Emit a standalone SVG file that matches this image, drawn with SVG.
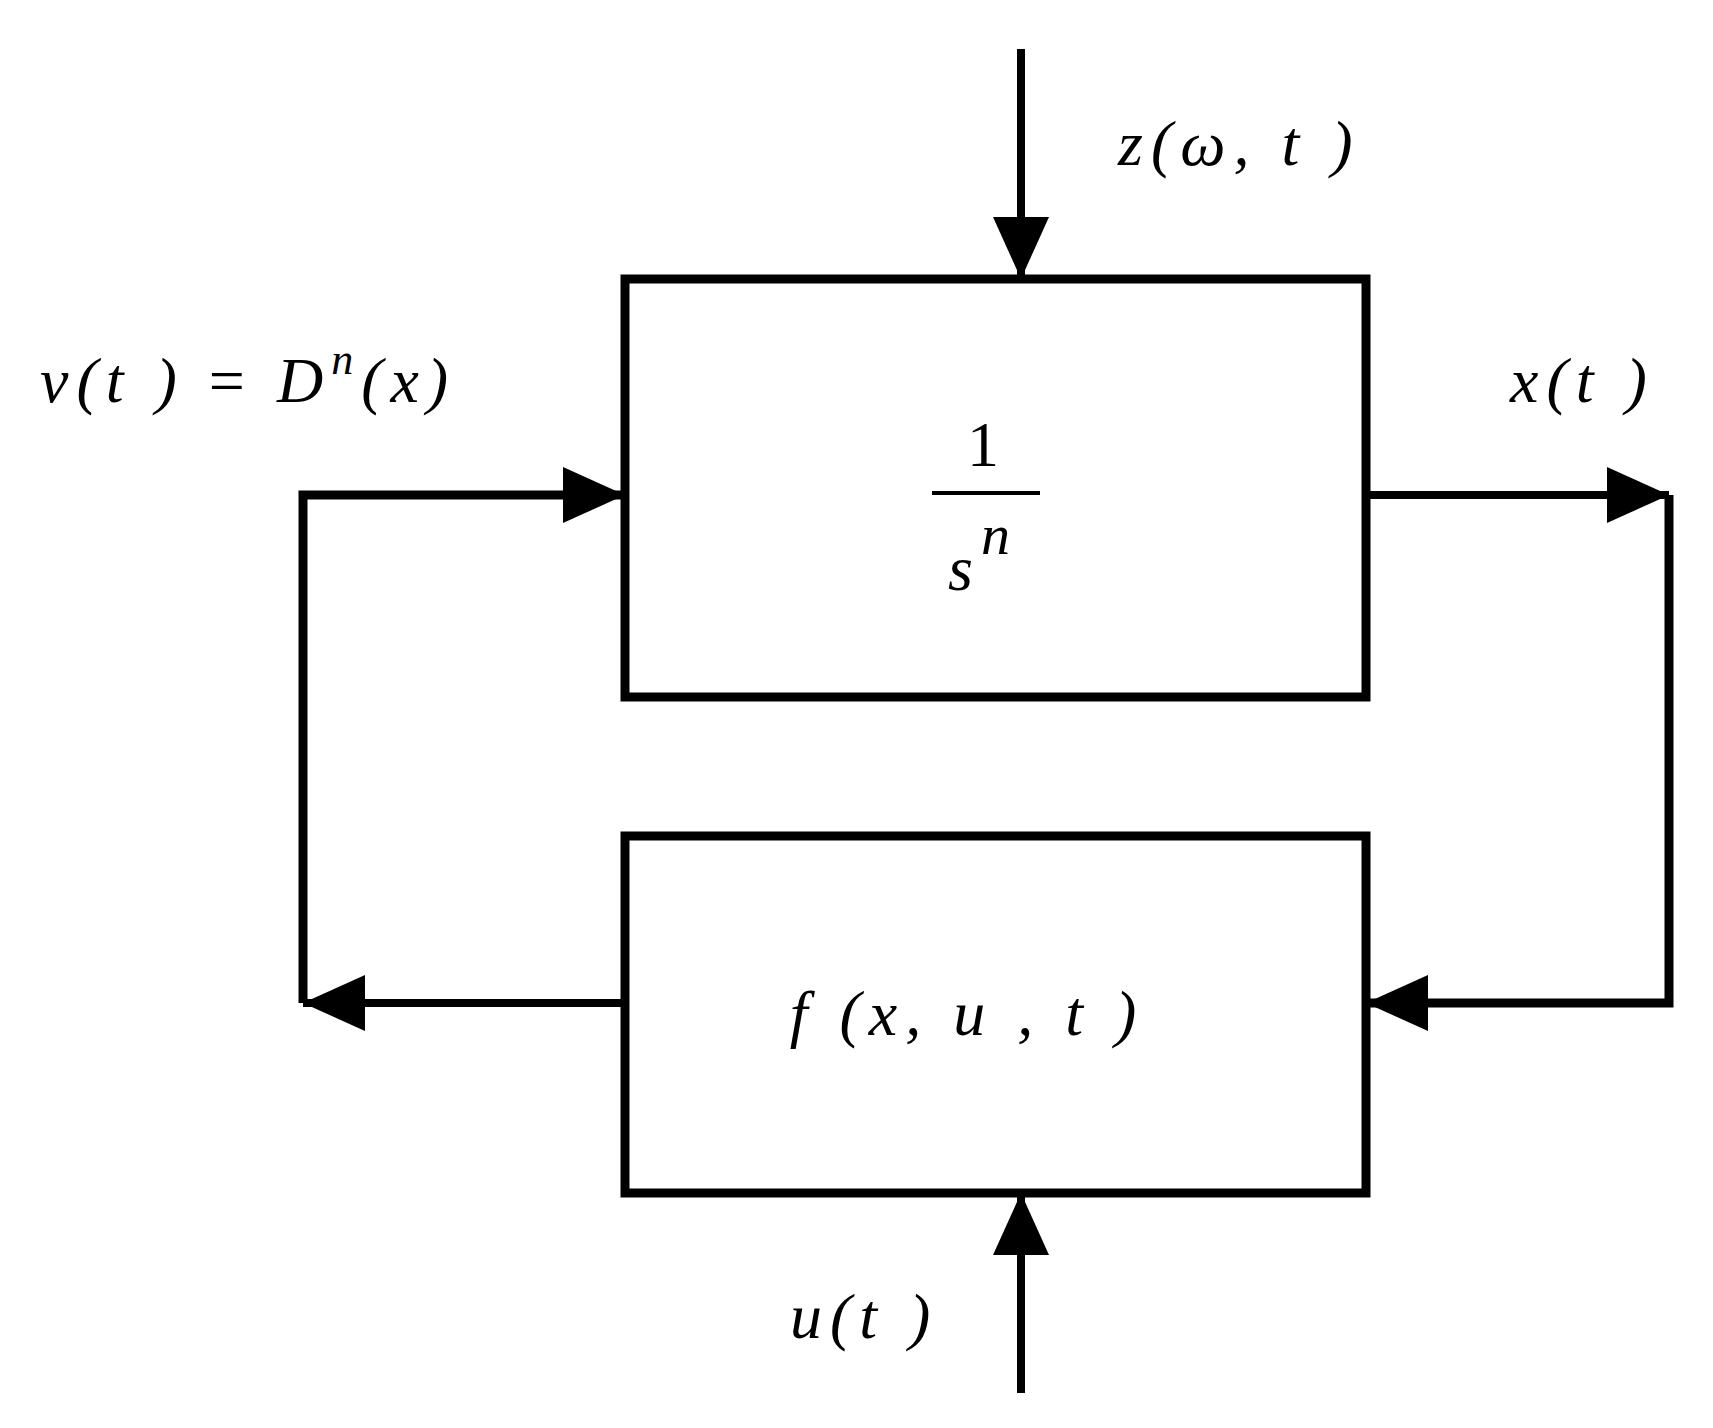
<svg xmlns="http://www.w3.org/2000/svg" width="1713" height="1428" viewBox="0 0 1713 1428">
<style>
.b{fill:none;stroke:#000;stroke-width:9}
.l{fill:none;stroke:#000;stroke-width:8}
.t{font-family:"Liberation Serif",serif;font-style:italic;font-size:64px;fill:#000;letter-spacing:8px}
.r{font-style:normal}
</style>
<defs>
<marker id="a" markerWidth="62" markerHeight="56" refX="62" refY="28" orient="auto" markerUnits="userSpaceOnUse"><path d="M0,0 L62,28 L0,56 Z" fill="#000"/></marker>
</defs>
<g id="integrator"><rect class="b" x="625" y="279" width="741" height="418"/>
<text class="t r" x="987" y="466" text-anchor="middle" letter-spacing="0">1</text>
<line x1="932" y1="493" x2="1040" y2="493" stroke="#000" stroke-width="4"/>
<text class="t" x="948" y="590" letter-spacing="0">s<tspan dy="-36" font-size="58">n</tspan></text></g>
<g id="nonlinear"><rect class="b" x="625" y="836" width="741" height="357"/>
<text class="t" x="967" y="1035" text-anchor="middle">f (x, u , t )</text></g>
<g id="connectors">
<line class="l" x1="1021" y1="49" x2="1021" y2="279" marker-end="url(#a)"/>
<line class="l" x1="1021" y1="1393" x2="1021" y2="1193" marker-end="url(#a)"/>
<polyline class="l" points="625,1003 303,1003" marker-end="url(#a)"/>
<polyline class="b" points="303,1003 303,495 625,495" marker-end="url(#a)"/>
<polyline class="l" points="1366,495 1669,495" marker-end="url(#a)"/>
<polyline class="b" points="1669,495 1669,1003 1366,1003" marker-end="url(#a)"/>
</g>
<g id="labels">
<text class="t" x="1118" y="165">z(ω, t )</text>
<text class="t" x="40" y="402">v(t ) <tspan class="r">=</tspan> D<tspan dy="-28" font-size="44">n</tspan><tspan dy="28">(x)</tspan></text>
<text class="t" x="1510" y="402">x(t )</text>
<text class="t" x="790" y="1338">u(t )</text>
</g>
</svg>
